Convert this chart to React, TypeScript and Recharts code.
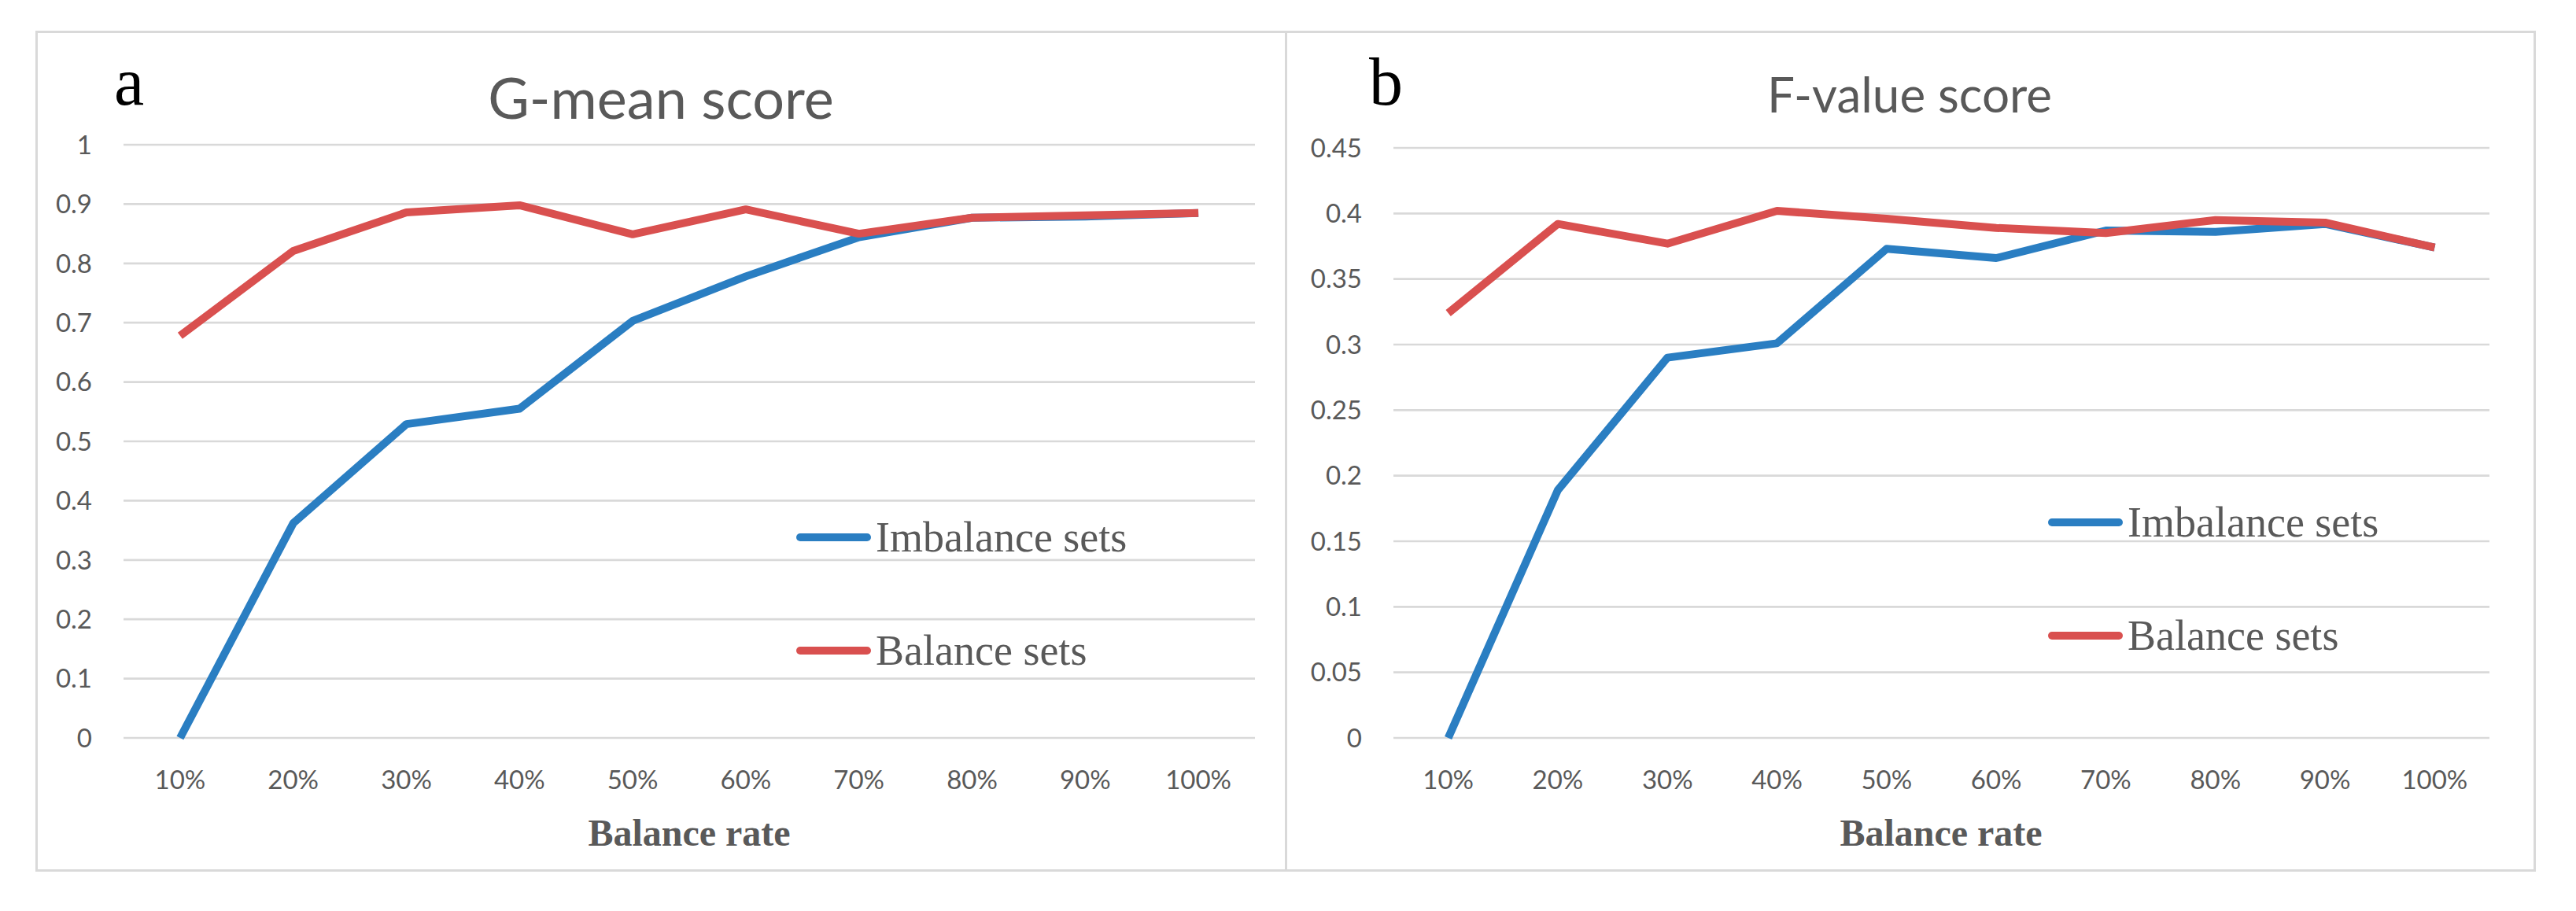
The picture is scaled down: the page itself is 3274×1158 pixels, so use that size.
import { LineChart, Line, XAxis, YAxis, CartesianGrid, Legend } from "recharts"

const rates = ["10%", "20%", "30%", "40%", "50%", "60%", "70%", "80%", "90%", "100%"]

// G-mean score (panel a)
const gmeanImbalance = [0, 0.362, 0.529, 0.555, 0.703, 0.778, 0.844, 0.877, 0.879, 0.885]
const gmeanBalance = [0.678, 0.821, 0.886, 0.898, 0.849, 0.891, 0.85, 0.877, 0.881, 0.885]
const gmeanTicks = [0, 0.1, 0.2, 0.3, 0.4, 0.5, 0.6, 0.7, 0.8, 0.9, 1]

// F-value score (panel b)
const fvalueImbalance = [0, 0.189, 0.29, 0.301, 0.373, 0.366, 0.387, 0.386, 0.392, 0.374]
const fvalueBalance = [0.324, 0.392, 0.377, 0.402, 0.396, 0.389, 0.385, 0.395, 0.393, 0.374]
const fvalueTicks = [0, 0.05, 0.1, 0.15, 0.2, 0.25, 0.3, 0.35, 0.4, 0.45]

const seriesNames = ["Imbalance sets", "Balance sets"]

const BLUE = "#2a7ec2"
const RED = "#d9504f"
const GRID = "#d9d9d9"
const TEXT = "#595959"

function buildRows(imb: number[], bal: number[]) {
    return rates.map((rate, i) => ({ rate, imbalance: imb[i], balance: bal[i] }))
}

// 去掉浮点尾巴
function fmtTick(v: number): string {
    return String(Number(v.toFixed(2)))
}

interface LegendItem {
    value: string
    color: string
}

function LegendContent({ payload }: { payload?: LegendItem[] }) {
    if (!payload) return null
    // 图例顺序按系列顺序排列
    const items = [...payload].sort((a, b) => seriesNames.indexOf(a.value) - seriesNames.indexOf(b.value))
    return (
        <div>
            {items.map((item) => (
                <div key={item.value} style={{ display: "flex", alignItems: "center", height: 72, marginBottom: 72 }}>
                    <div style={{ width: 95, height: 10, borderRadius: 5, background: item.color, marginRight: 6 }} />
                    <span style={{ fontFamily: "Liberation Serif", fontSize: 54, color: TEXT, lineHeight: "72px" }}>
                        {item.value}
                    </span>
                </div>
            ))}
        </div>
    )
}

interface PanelProps {
    left: number
    width: number
    plotLeft: number
    plotRight: number
    plotTop: number
    data: ReturnType<typeof buildRows>
    ticks: number[]
    max: number
    legendLeft: number
    legendTop: number
}

function Panel({ left, width, plotLeft, plotRight, plotTop, data, ticks, max, legendLeft, legendTop }: PanelProps) {
    const top = 39
    const height = 1069
    const plotBottom = 938
    const yAxisWidth = 80
    const xAxisHeight = 60
    const plotWidth = plotRight - plotLeft
    const pad = plotWidth / 20

    return (
        <div
            style={{
                position: "absolute",
                left,
                top,
                width,
                height,
                boxSizing: "border-box",
                border: `3px solid ${GRID}`,
            }}
        >
            <div style={{ position: "absolute", left: -3, top: -3 }}>
                <LineChart
                    width={width}
                    height={height}
                    data={data}
                    margin={{
                        top: plotTop - top,
                        right: left + width - plotRight,
                        left: plotLeft - left - yAxisWidth,
                        bottom: top + height - plotBottom - xAxisHeight,
                    }}
                >
                    <CartesianGrid vertical={false} stroke={GRID} strokeWidth={2.7} />
                    <XAxis
                        dataKey="rate"
                        height={xAxisHeight}
                        axisLine={false}
                        tickLine={false}
                        tickMargin={36}
                        padding={{ left: pad, right: pad }}
                        tick={{ fontFamily: "Lato", fontSize: 33, fill: TEXT }}
                        interval={0}
                    />
                    <YAxis
                        width={yAxisWidth}
                        domain={[0, max]}
                        ticks={ticks}
                        tickFormatter={fmtTick}
                        axisLine={false}
                        tickLine={false}
                        tickMargin={34}
                        tick={{ fontFamily: "Lato", fontSize: 33, fill: TEXT }}
                        interval={0}
                    />
                    <Legend
                        layout="vertical"
                        align="center"
                        verticalAlign="middle"
                        content={<LegendContent />}
                        wrapperStyle={{ left: legendLeft - left, top: legendTop - top, width: 520 }}
                    />
                    <Line
                        type="linear"
                        dataKey="imbalance"
                        name={seriesNames[0]}
                        stroke={BLUE}
                        strokeWidth={10}
                        strokeLinejoin="round"
                        dot={false}
                        isAnimationActive={false}
                    />
                    <Line
                        type="linear"
                        dataKey="balance"
                        name={seriesNames[1]}
                        stroke={RED}
                        strokeWidth={10}
                        strokeLinejoin="round"
                        dot={false}
                        isAnimationActive={false}
                    />
                </LineChart>
            </div>
        </div>
    )
}

export default function App() {
    return (
        <div style={{ position: "absolute", left: 0, top: 0, width: 3274, height: 1158, background: "#fff", overflow: "hidden" }}>
            <Panel
                left={45}
                width={1591}
                plotLeft={157}
                plotRight={1595}
                plotTop={184}
                data={buildRows(gmeanImbalance, gmeanBalance)}
                ticks={gmeanTicks}
                max={1}
                legendLeft={1012}
                legendTop={647}
            />
            <Panel
                left={1633}
                width={1590}
                plotLeft={1771}
                plotRight={3164}
                plotTop={188}
                data={buildRows(fvalueImbalance, fvalueBalance)}
                ticks={fvalueTicks}
                max={0.45}
                legendLeft={2603}
                legendTop={628}
            />
            <svg
                width={3274}
                height={1158}
                style={{ position: "absolute", left: 0, top: 0, pointerEvents: "none" }}
            >
                <text x={145} y={133} fontFamily="Liberation Serif" fontSize={86} fill="#000">a</text>
                <text x={1740} y={133} fontFamily="Liberation Serif" fontSize={86} fill="#000">b</text>
                <text x={840} y={151} textAnchor="middle" fontFamily="Lato" fontSize={72} fill={TEXT}>G-mean score</text>
                <text x={2427} y={143} textAnchor="middle" fontFamily="Lato" fontSize={62} fill={TEXT}>F-value score</text>
                <text x={876} y={1075} textAnchor="middle" fontFamily="Liberation Serif" fontWeight="bold" fontSize={48} fill={TEXT}>Balance rate</text>
                <text x={2467} y={1075} textAnchor="middle" fontFamily="Liberation Serif" fontWeight="bold" fontSize={48} fill={TEXT}>Balance rate</text>
            </svg>
        </div>
    )
}
